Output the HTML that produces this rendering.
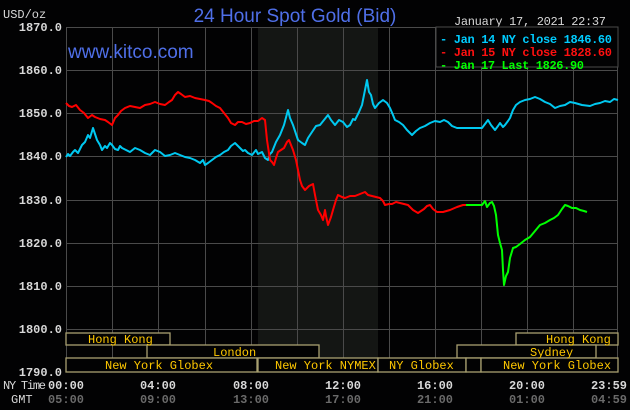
<!DOCTYPE html>
<html><head><meta charset="utf-8"><style>
body{margin:0;background:#020203;}
svg{display:block;font-family:"Liberation Mono","DejaVu Sans Mono",monospace;}
</style></head><body>
<svg width="630" height="410" viewBox="0 0 630 410" xmlns="http://www.w3.org/2000/svg">
<rect width="630" height="410" fill="#020203"/>
<rect x="258" y="27" width="120" height="345" fill="#141614"/>
<g stroke="#4a4a4a" stroke-width="1">
<line x1="66" y1="27.5" x2="618" y2="27.5"/><line x1="66" y1="70.5" x2="618" y2="70.5"/>
<line x1="66" y1="113.5" x2="618" y2="113.5"/><line x1="66" y1="156.5" x2="618" y2="156.5"/>
<line x1="66" y1="200.5" x2="618" y2="200.5"/><line x1="66" y1="243.5" x2="618" y2="243.5"/>
<line x1="66" y1="286.5" x2="618" y2="286.5"/><line x1="66" y1="329.5" x2="618" y2="329.5"/>
<line x1="66.5" y1="27" x2="66.5" y2="372"/><line x1="112.5" y1="27" x2="112.5" y2="372"/>
<line x1="158.5" y1="27" x2="158.5" y2="372"/><line x1="205.5" y1="27" x2="205.5" y2="372"/>
<line x1="251.5" y1="27" x2="251.5" y2="372"/><line x1="297.5" y1="27" x2="297.5" y2="372"/>
<line x1="343.5" y1="27" x2="343.5" y2="372"/><line x1="389.5" y1="27" x2="389.5" y2="372"/>
<line x1="435.5" y1="27" x2="435.5" y2="372"/><line x1="481.5" y1="27" x2="481.5" y2="372"/>
<line x1="527.5" y1="27" x2="527.5" y2="372"/><line x1="573.5" y1="27" x2="573.5" y2="372"/>
<line x1="617.5" y1="27" x2="617.5" y2="372"/>
</g>
<g fill="#d8d8d8" font-size="12" font-weight="bold" text-anchor="end">
<text x="62" y="31">1870.0</text><text x="62" y="74">1860.0</text><text x="62" y="117">1850.0</text>
<text x="62" y="160">1840.0</text><text x="62" y="204">1830.0</text><text x="62" y="247">1820.0</text>
<text x="62" y="290">1810.0</text><text x="62" y="333">1800.0</text><text x="62" y="376">1790.0</text>
</g>
<text x="3" y="18" fill="#d8d8d8" font-size="12">USD/oz</text>
<text x="295" y="22" fill="#4f6fe8" font-size="19" text-anchor="middle" font-family="Liberation Sans, sans-serif">24 Hour Spot Gold (Bid)</text>
<text x="454" y="25" fill="#d8d8d8" font-size="12" textLength="152">January 17, 2021 22:37</text>
<text x="68" y="58" fill="#4f6fe8" font-size="19" font-family="Liberation Sans, sans-serif">www.kitco.com</text>
<rect x="436" y="27" width="182" height="40" fill="#020203" stroke="#4a4a4a"/>
<g font-size="12" font-weight="bold">
<text x="440" y="43" fill="#00ccff" textLength="172">- Jan 14 NY close 1846.60</text>
<text x="440" y="56" fill="#ff1010" textLength="172">- Jan 15 NY close 1828.60</text>
<text x="440" y="69" fill="#00ff00" textLength="144">- Jan 17 Last 1826.90</text>
</g>
<g fill="none" stroke-width="2" stroke-linejoin="round">
<polyline stroke="#00c8f0" points="66,157 68,154 70,156 73,152 75,150 78,153 82,145 85,142 88,135 90,138 93,128 95,134 97,140 100,145 102,150 105,146 107,148 110,143 112,145 115,149 118,150 120,146 122,148 126,150 130,152 135,148 140,150 145,153 150,155 155,150 160,152 165,156 170,155 175,153 180,155 185,157 190,158 195,160 200,163 203,160 205,165 208,163 212,160 216,157 220,155 224,152 228,150 231,146 235,143 238,146 240,148 243,151 245,150 248,153 252,155 256,150 258,154 262,152 265,158 268,160 270,154 272,152 276,142 280,135 284,125 288,110 290,118 293,125 296,134 298,140 302,143 305,145 308,138 312,132 316,126 320,125 324,120 328,115 331,120 335,125 339,120 343,122 347,127 350,125 353,119 355,120 359,112 362,105 365,90 367,80 369,92 371,95 373,104 375,108 379,103 383,100 387,103 390,108 393,115 395,120 399,122 403,125 407,130 412,135 416,131 420,128 425,126 430,123 435,121 440,122 444,120 448,122 452,126 457,128 482,128 485,124 488,120 491,125 495,130 498,126 500,123 503,127 505,125 508,121 510,118 513,110 516,105 520,102 525,100 530,99 535,97 540,99 545,102 550,104 555,108 560,106 565,105 570,102 575,103 582,105 590,106 595,104 600,103 605,101 610,102 614,99 618,100"/>
<polyline stroke="#ff0000" points="66,103 69,106 72,107 76,105 80,110 84,113 88,118 92,115 95,117 100,119 105,120 108,122 112,125 115,118 118,115 121,111 125,108 130,106 135,107 140,108 145,105 150,104 155,102 160,104 165,105 169,102 172,100 175,95 178,92 181,94 185,97 190,96 195,98 200,99 205,100 209,101 212,103 216,106 220,108 224,113 228,118 231,123 235,125 238,122 242,122 246,124 250,123 254,121 258,121 262,118 265,120 267,140 270,160 272,162 274,165 276,158 278,152 281,150 284,148 287,142 289,140 291,145 293,150 296,160 298,170 300,180 302,186 305,190 309,186 313,184 315,195 318,210 321,215 323,220 325,210 326,216 328,225 331,217 333,210 336,200 338,195 342,197 345,198 350,196 355,196 360,194 365,192 368,195 372,196 376,197 380,198 383,201 385,205 389,204 392,204 396,202 400,203 404,204 408,205 413,210 418,213 421,211 424,209 427,206 430,205 433,209 437,212 443,212 450,210 457,207 463,205 466,205"/>
<polyline stroke="#00ff00" points="466,205 482,205 485,201 487,207 490,203 492,202 494,206 496,215 497,225 498,235 500,243 502,250 503,270 504,285 506,276 508,272 510,258 513,248 516,247 520,244 525,240 530,237 535,231 540,225 545,223 550,220 554,218 558,215 562,209 565,205 568,206 572,208 576,208 580,210 584,211 587,212"/>
</g>
<g fill="#020203" stroke="#a8a070" stroke-width="1.3">
<rect x="66" y="333" width="104" height="12"/><rect x="516" y="333" width="102" height="12"/>
<rect x="147" y="345" width="172" height="13"/><rect x="457" y="345" width="139" height="13"/>
<rect x="66" y="358" width="191" height="14"/><rect x="258" y="358" width="120" height="14"/>
<rect x="378" y="358" width="88" height="14"/><rect x="466" y="358" width="15" height="14"/>
<rect x="481" y="358" width="137" height="14"/>
</g>
<g fill="#ffc800" font-size="12">
<text x="88" y="343">Hong Kong</text><text x="546" y="343">Hong Kong</text>
<text x="213" y="356">London</text><text x="530" y="356">Sydney</text>
<text x="105" y="369">New York Globex</text><text x="275" y="369">New York NYMEX</text>
<text x="389" y="369">NY Globex</text><text x="503" y="369">New York Globex</text>
</g>
<g font-size="12">
<text x="3" y="389" fill="#d8d8d8" textLength="43">NY Time</text><text x="11" y="403" fill="#d8d8d8">GMT</text>
<g fill="#d8d8d8" font-weight="bold" text-anchor="middle"><text x="66" y="389">00:00</text><text x="158" y="389">04:00</text><text x="251" y="389">08:00</text><text x="343" y="389">12:00</text><text x="435" y="389">16:00</text><text x="527" y="389">20:00</text><text x="609" y="389">23:59</text></g>
<g fill="#6a6a6a" font-weight="bold" text-anchor="middle"><text x="66" y="403">05:00</text><text x="158" y="403">09:00</text><text x="251" y="403">13:00</text><text x="343" y="403">17:00</text><text x="435" y="403">21:00</text><text x="527" y="403">01:00</text><text x="609" y="403">04:59</text></g>
</g>
</svg>
</body></html>
